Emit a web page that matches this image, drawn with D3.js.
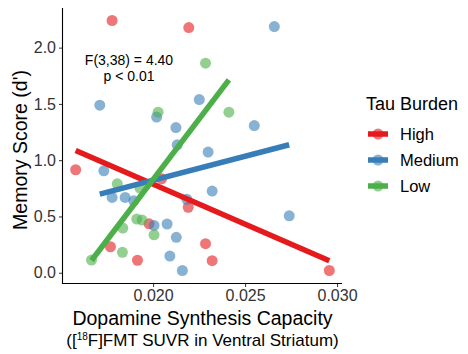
<!DOCTYPE html>
<html>
<head>
<meta charset="utf-8">
<script src="https://cdn.jsdelivr.net/npm/d3@7"></script>
<style>
  body { margin: 0; background: #fff; }
  svg { display: block; font-family: "Liberation Sans", Arial, Helvetica, sans-serif; }
</style>
</head>
<body>
<svg id="chart"></svg>
<script>
/**
 * Data
 */
const groups = ["High", "Medium", "Low"];
const groupColors = ["#E41A1C", "#377EB8", "#4DAF4A"];

const highX = [0.01777, 0.02194, 0.01579, 0.02046, 0.02191, 0.01978, 0.01768, 0.01915, 0.02285, 0.02321, 0.02958];
const highY = [2.241, 2.178, 0.915, 0.835, 0.582, 0.435, 0.231, 0.111, 0.258, 0.107, 0.020];

const mediumX = [0.01710, 0.02019, 0.02124, 0.02251, 0.02659, 0.02550, 0.02131, 0.01732, 0.01777, 0.01848,
                 0.01895, 0.02183, 0.02005, 0.02076, 0.02126, 0.02091, 0.02159, 0.02299, 0.02321, 0.02740];
const mediumY = [1.489, 1.383, 1.290, 1.539, 2.187, 1.308, 1.137, 0.906, 0.669, 0.669,
                 0.639, 0.653, 0.420, 0.433, 0.315, 0.148, 0.020, 1.072, 0.726, 0.506];

const lowX = [0.02027, 0.02285, 0.02412, 0.01805, 0.01928, 0.01911, 0.01940, 0.01835, 0.02005, 0.01833, 0.01665];
const lowY = [1.427, 1.862, 1.427, 0.790, 0.752, 0.477, 0.468, 0.397, 0.337, 0.182, 0.113];

// fitted lines per group: y at the group's smallest and largest x
const fitStartY = [1.086, 0.699, 0.109];
const fitEndY = [0.107, 1.137, 1.714];

const xTicks = [0.020, 0.025, 0.030];
const yTicks = [0.0, 0.5, 1.0, 1.5, 2.0];
const statLines = ["F(3,38) = 4.40", "p < 0.01"];

/**
 * Canvas
 */
const width = 468;
const height = 354;
const margin = { top: 8, right: 126, bottom: 71, left: 63 };
const plotW = width - margin.left - margin.right;
const plotH = height - margin.top - margin.bottom;

const svg = d3.select("#chart")
  .attr("width", width)
  .attr("height", height);

const xsByGroup = [highX, mediumX, lowX];
const ysByGroup = [highY, mediumY, lowY];

const points = [];
groups.forEach((g, gi) => {
  xsByGroup[gi].forEach((x, i) => points.push({ group: gi, x: x, y: ysByGroup[gi][i] }));
});

// ggplot-style 5% expansion
let expand = (ext) => {
  const pad = (ext[1] - ext[0]) * 0.05;
  return [ext[0] - pad, ext[1] + pad];
};

const xScale = d3.scaleLinear()
  .domain(expand(d3.extent(points, d => d.x)))
  .range([margin.left, margin.left + plotW]);

const yScale = d3.scaleLinear()
  .domain(expand(d3.extent(points, d => d.y)))
  .range([margin.top + plotH, margin.top]);

// points
svg.append("g")
  .selectAll("circle")
  .data(points)
  .enter()
    .append("circle")
    .attr("cx", d => xScale(d.x))
    .attr("cy", d => yScale(d.y))
    .attr("r", 5.5)
    .attr("fill", d => groupColors[d.group])
    .attr("fill-opacity", 0.6);

// fit lines
groups.forEach((g, gi) => {
  const ext = d3.extent(xsByGroup[gi]);
  svg.append("line")
    .attr("x1", xScale(ext[0]))
    .attr("y1", yScale(fitStartY[gi]))
    .attr("x2", xScale(ext[1]))
    .attr("y2", yScale(fitEndY[gi]))
    .attr("stroke", groupColors[gi])
    .attr("stroke-width", 5.5);
});

// axes
const xAxis = d3.axisBottom(xScale).tickValues(xTicks).tickFormat(d3.format(".3f")).tickSize(4).tickPadding(3);
const gx = svg.append("g")
  .attr("transform", "translate(0," + (margin.top + plotH) + ")")
  .call(xAxis);

const yAxis = d3.axisLeft(yScale).tickValues(yTicks).tickFormat(d3.format(".1f")).tickSize(4).tickPadding(3);
const gy = svg.append("g")
  .attr("transform", "translate(" + margin.left + ",0)")
  .call(yAxis);

[gx, gy].forEach(g => {
  g.select(".domain").remove();
  g.selectAll(".tick line").attr("stroke", "#333");
  g.selectAll(".tick text").attr("fill", "#333").style("font-size", "16px").style("font-family", null);
});

// axis lines (theme_classic)
svg.append("line")
  .attr("x1", margin.left).attr("x2", margin.left + plotW)
  .attr("y1", margin.top + plotH + 0.5).attr("y2", margin.top + plotH + 0.5)
  .attr("stroke", "#000").attr("stroke-width", 1.1);
svg.append("line")
  .attr("x1", margin.left - 0.5).attr("x2", margin.left - 0.5)
  .attr("y1", margin.top).attr("y2", margin.top + plotH + 1)
  .attr("stroke", "#000").attr("stroke-width", 1.1);

// axis titles
svg.append("text")
  .attr("x", margin.left + plotW / 2)
  .attr("y", 325)
  .attr("text-anchor", "middle")
  .style("font-size", "19.5px")
  .text("Dopamine Synthesis Capacity");

const sub = svg.append("text")
  .attr("x", margin.left + plotW / 2)
  .attr("y", 346)
  .attr("text-anchor", "middle")
  .style("font-size", "17px");
sub.append("tspan").text("([");
sub.append("tspan").attr("dy", -6).style("font-size", "10px").text("18");
sub.append("tspan").attr("dy", 6).text("F]FMT SUVR in Ventral Striatum)");

svg.append("text")
  .attr("transform", "translate(27,150) rotate(-90)")
  .attr("text-anchor", "middle")
  .style("font-size", "19.5px")
  .text("Memory Score (d')");

// stats annotation
svg.append("g")
  .selectAll("text")
  .data(statLines)
  .enter()
    .append("text")
    .attr("x", 129)
    .attr("y", (d, i) => 65 + i * 16)
    .attr("text-anchor", "middle")
    .style("font-size", "14px")
    .text(d => d);

// legend
const legend = svg.append("g").attr("transform", "translate(366,0)");
legend.append("text")
  .attr("x", 0).attr("y", 110)
  .style("font-size", "18px")
  .text("Tau Burden");

groups.forEach((g, gi) => {
  const ky = 134 + gi * 26;
  legend.append("line")
    .attr("x1", 2).attr("x2", 22)
    .attr("y1", ky).attr("y2", ky)
    .attr("stroke", groupColors[gi]).attr("stroke-width", 5.5);
  legend.append("circle")
    .attr("cx", 12).attr("cy", ky).attr("r", 5.5)
    .attr("fill", groupColors[gi]).attr("fill-opacity", 0.6);
  legend.append("text")
    .attr("x", 34).attr("y", ky)
    .attr("dy", "0.36em")
    .style("font-size", "16.5px")
    .text(g);
});
</script>
</body>
</html>
